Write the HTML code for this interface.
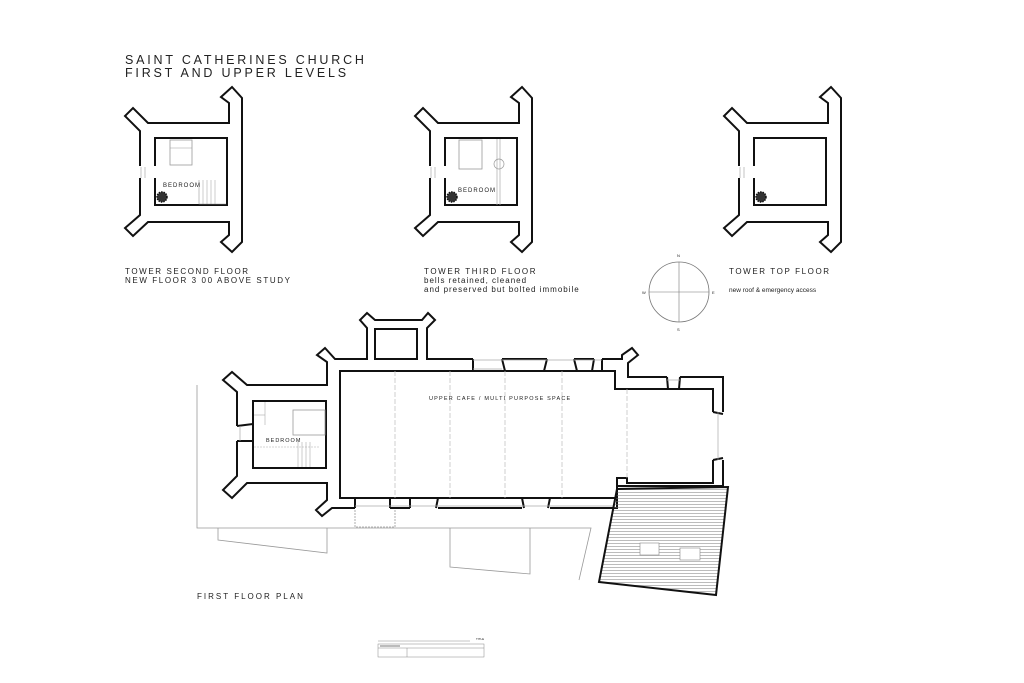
<!DOCTYPE html>
<html><head><meta charset="utf-8"><style>
html,body{margin:0;padding:0;background:#fff;}
svg{display:block;}
text{font-family:"Liberation Sans",sans-serif;fill:#222;}
</style></head><body>
<svg width="1024" height="683" viewBox="0 0 1024 683" xmlns="http://www.w3.org/2000/svg">
<rect width="1024" height="683" fill="#fff"/>
<text x="125" y="64" font-size="12.5" letter-spacing="2.8">SAINT CATHERINES CHURCH</text>
<text x="125" y="77" font-size="12.5" letter-spacing="2.8">FIRST AND UPPER LEVELS</text>

<defs>
<g id="tw">
<polygon points="221,97 232,87 242,98 242,242 232,252 221,242 229,235 229,222 148,222 133,236 125,228 140,215 140,131 125,116 133,108 148,123 229,123 229,103" fill="#fff" stroke="#111" stroke-width="2" stroke-linejoin="miter"/>
<rect x="155" y="138" width="72" height="67" fill="#fff" stroke="#111" stroke-width="2"/>
<rect x="139" y="166" width="17" height="12" fill="#fff"/>
<line x1="141" y1="167" x2="141" y2="178" stroke="#aaa" stroke-width="0.7"/>
<line x1="145" y1="167" x2="145" y2="178" stroke="#aaa" stroke-width="0.7"/>
<circle cx="162" cy="197" r="5" fill="#333" stroke="#111" stroke-width="1.5" stroke-dasharray="1.5 1"/>
</g>
</defs>

<use href="#tw"/>
<rect x="170" y="140" width="22" height="25" fill="none" stroke="#999" stroke-width="0.8"/>
<line x1="170" y1="148" x2="192" y2="148" stroke="#999" stroke-width="0.6"/>
<polyline points="199,180 199,204 226,204" fill="none" stroke="#999" stroke-width="0.6"/>
<g stroke="#999" stroke-width="0.5"><line x1="203" y1="180" x2="203" y2="204"/><line x1="207" y1="180" x2="207" y2="204"/><line x1="211" y1="180" x2="211" y2="204"/><line x1="215" y1="180" x2="215" y2="204"/></g>
<text x="163" y="187" font-size="6" letter-spacing="1">BEDROOM</text>
<text x="125" y="274" font-size="8" letter-spacing="1.6">TOWER SECOND FLOOR</text>
<text x="125" y="283" font-size="8" letter-spacing="1.6">NEW FLOOR 3 00  ABOVE STUDY</text>

<use href="#tw" transform="translate(290,0)"/>
<rect x="459" y="140" width="23" height="29" fill="none" stroke="#999" stroke-width="0.8"/>
<line x1="497" y1="139" x2="497" y2="205" stroke="#aaa" stroke-width="0.7"/>
<line x1="500" y1="139" x2="500" y2="205" stroke="#aaa" stroke-width="0.7"/>
<circle cx="499" cy="164" r="5" fill="none" stroke="#999" stroke-width="0.7"/>
<text x="458" y="192" font-size="6" letter-spacing="1">BEDROOM</text>
<text x="424" y="274" font-size="8" letter-spacing="1.6">TOWER THIRD FLOOR</text>
<text x="424" y="283" font-size="8" letter-spacing="1">bells retained, cleaned</text>
<text x="424" y="292" font-size="8" letter-spacing="1">and preserved but bolted immobile</text>

<use href="#tw" transform="translate(599,0)"/>
<text x="729" y="274" font-size="8" letter-spacing="1.6">TOWER TOP FLOOR</text>
<text x="729" y="292" font-size="6.5">new roof &amp; emergency access</text>

<circle cx="679" cy="292" r="30" fill="none" stroke="#777" stroke-width="0.8"/>
<line x1="679" y1="262" x2="679" y2="322" stroke="#777" stroke-width="0.6"/>
<line x1="649" y1="292" x2="709" y2="292" stroke="#777" stroke-width="0.6"/>
<text x="677" y="257" font-size="4">N</text>
<text x="677" y="331" font-size="4">S</text>
<text x="642" y="294" font-size="4">W</text>
<text x="712" y="294" font-size="4">E</text>

<g fill="none" stroke="#999" stroke-width="0.8">
<polyline points="197,385 197,528 591,528 579,580"/>
<polyline points="218,528 218,540 327,553 327,528"/>
<polyline points="450,528 450,567 530,574 530,528"/>
<rect x="355" y="508" width="40" height="19" stroke-dasharray="2 1"/>
</g>

<polygon points="223,380 232,372 247,385 327,385 327,362 317,355 325,348 335,359 367,359 367,328 360,320 367,313 375,320 422,320 428,313 435,320 427,328 427,359 622,359 622,355 632,348 638,355 628,363 628,377 723,377 723,486 617,486 617,508 340,508 332,508 322,516 316,510 327,500 327,483 247,483 232,498 223,490 237,476 237,392" fill="#fff" stroke="#111" stroke-width="2" stroke-linejoin="miter"/>
<rect x="375" y="329" width="42" height="30" fill="#fff" stroke="#111" stroke-width="2"/>
<polygon points="340,371 615,371 615,389 713,389 713,483 627,483 627,478 617,478 617,498 340,498" fill="#fff" stroke="#111" stroke-width="2"/>
<rect x="253" y="401" width="73" height="67" fill="#fff" stroke="#111" stroke-width="2"/>

<g fill="#fff">
<rect x="473" y="357" width="29" height="13"/><rect x="547" y="357" width="27" height="13"/><rect x="594" y="357" width="8" height="13"/>
<rect x="355" y="499" width="35" height="11"/><rect x="410" y="499" width="28" height="11"/><rect x="522" y="499" width="28" height="11"/>
<rect x="712" y="412" width="13" height="48"/><rect x="667" y="375" width="13" height="13"/>
<rect x="236" y="426" width="16" height="15"/>
</g>
<g stroke="#111" stroke-width="2" fill="none">
<line x1="473" y1="359" x2="473" y2="371"/><line x1="502" y1="359" x2="505" y2="371"/>
<line x1="547" y1="359" x2="544" y2="371"/><line x1="574" y1="359" x2="577" y2="371"/>
<line x1="594" y1="359" x2="592" y2="371"/><line x1="602" y1="359" x2="602" y2="371"/>
<line x1="355" y1="498" x2="355" y2="508"/><line x1="390" y1="498" x2="390" y2="508"/>
<line x1="410" y1="498" x2="410" y2="508"/><line x1="438" y1="498" x2="436" y2="508"/>
<line x1="522" y1="498" x2="524" y2="508"/><line x1="550" y1="498" x2="548" y2="508"/>
<line x1="713" y1="412" x2="723" y2="414"/><line x1="713" y1="460" x2="723" y2="458"/>
<line x1="667" y1="377" x2="668" y2="389"/><line x1="680" y1="377" x2="679" y2="389"/>
<line x1="237" y1="426" x2="253" y2="424"/><line x1="237" y1="441" x2="253" y2="441"/>
</g>
<g stroke="#aaa" stroke-width="0.7">
<line x1="473" y1="360" x2="602" y2="360"/><line x1="473" y1="369" x2="502" y2="369"/>
<line x1="355" y1="506" x2="615" y2="506"/>
<line x1="718" y1="412" x2="718" y2="460"/><line x1="667" y1="380" x2="680" y2="380"/>
<line x1="240" y1="426" x2="240" y2="441"/>
</g>
<g stroke="#bbb" stroke-width="0.7" stroke-dasharray="5 2">
<line x1="395" y1="371" x2="395" y2="498"/><line x1="450" y1="371" x2="450" y2="498"/>
<line x1="505" y1="371" x2="505" y2="498"/><line x1="562" y1="371" x2="562" y2="498"/>
<line x1="627" y1="389" x2="627" y2="478"/>
</g>
<text x="429" y="400" font-size="5.5" letter-spacing="1.2">UPPER CAFE / MULTI PURPOSE SPACE</text>
<rect x="293" y="410" width="32" height="25" fill="none" stroke="#999" stroke-width="0.8"/>
<g stroke="#aaa" stroke-width="0.6"><line x1="298" y1="442" x2="298" y2="467"/><line x1="302" y1="442" x2="302" y2="467"/><line x1="306" y1="442" x2="306" y2="467"/><line x1="310" y1="442" x2="310" y2="467"/><line x1="254" y1="447" x2="320" y2="447" stroke-dasharray="2 1"/><line x1="254" y1="415" x2="265" y2="415"/><line x1="265" y1="402" x2="265" y2="425"/></g>
<text x="266" y="442" font-size="5.5" letter-spacing="1">BEDROOM</text>

<defs><pattern id="hat" width="6" height="3" patternUnits="userSpaceOnUse"><line x1="0" y1="0.5" x2="6" y2="0.5" stroke="#777" stroke-width="0.5"/></pattern></defs>
<polygon points="617,489 728,487 716,595 599,582" fill="url(#hat)" stroke="#111" stroke-width="2"/>
<rect x="640" y="543" width="19" height="12" fill="#fff" stroke="#888" stroke-width="0.6"/>
<rect x="680" y="548" width="20" height="12" fill="#fff" stroke="#888" stroke-width="0.6"/>

<text x="197" y="599" font-size="8" letter-spacing="2">FIRST FLOOR PLAN</text>

<g stroke="#888" stroke-width="0.5" fill="none">
<rect x="378" y="644" width="106" height="13"/>
<line x1="378" y1="648" x2="484" y2="648"/>
<line x1="378" y1="641" x2="470" y2="641"/>
<line x1="407" y1="648" x2="407" y2="657"/>
</g>
<rect x="380" y="645" width="20" height="2" fill="#bbb"/>
<text x="476" y="640" font-size="3">TITLE</text>
</svg>
</body></html>
